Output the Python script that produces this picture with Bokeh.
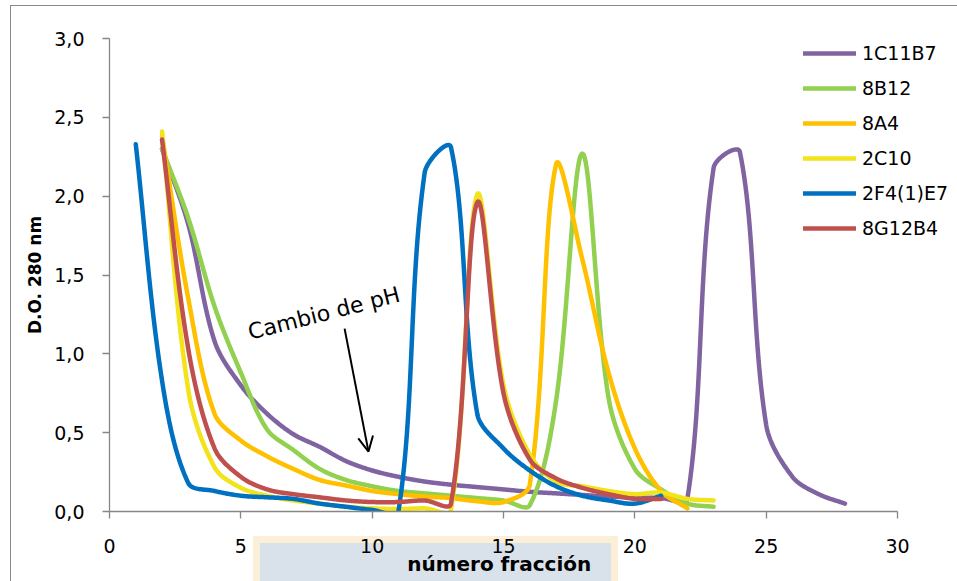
import numpy as np
from bokeh.plotting import figure
from bokeh.models import (Range1d, FixedTicker, CustomJSTickFormatter, Legend,
                          LegendItem, Arrow, OpenHead, Label)
from bokeh.embed import file_html
from bokeh.resources import INLINE

# ---------------- data ----------------
series_names = ["1C11B7", "8B12", "8A4", "2C10", "2F4(1)E7", "8G12B4"]
series_colors = ["#8064A2", "#92D050", "#FFC000", "#F2E31B", "#0070C0", "#C0504D"]

frac_1C11B7 = list(range(2, 29))
od_1C11B7 = [2.30, 1.82, 1.08, 0.80, 0.62, 0.49, 0.41, 0.32, 0.26, 0.22, 0.19, 0.17,
             0.155, 0.14, 0.125, 0.115, 0.105, 0.095, 0.09, 0.085, 0.08, 2.18, 2.28,
             0.55, 0.22, 0.11, 0.05]

frac_8B12 = list(range(2, 24))
od_8B12 = [2.30, 1.86, 1.30, 0.88, 0.52, 0.39, 0.27, 0.20, 0.16, 0.13, 0.115, 0.10,
           0.085, 0.07, 0.04, 0.70, 2.27, 0.72, 0.27, 0.14, 0.05, 0.03]

frac_8A4 = list(range(2, 23))
od_8A4 = [2.38, 1.35, 0.62, 0.45, 0.35, 0.27, 0.20, 0.165, 0.13, 0.11, 0.095, 0.085,
          0.065, 0.06, 0.17, 2.20, 1.60, 0.88, 0.40, 0.13, 0.02]

frac_2C10 = list(range(2, 24))
od_2C10 = [2.41, 0.77, 0.28, 0.15, 0.10, 0.07, 0.05, 0.03, 0.02, 0.015, 0.02, 0.01,
           2.01, 0.80, 0.36, 0.19, 0.16, 0.13, 0.11, 0.12, 0.08, 0.07]

frac_2F4 = list(range(1, 22))
od_2F4 = [2.33, 0.83, 0.18, 0.13, 0.10, 0.09, 0.08, 0.05, 0.03, 0.01, 0.0, 2.15,
          2.31, 0.62, 0.40, 0.26, 0.16, 0.10, 0.07, 0.05, 0.10]

frac_8G12B4 = list(range(2, 22))
od_8G12B4 = [2.36, 1.03, 0.40, 0.22, 0.14, 0.11, 0.09, 0.07, 0.06, 0.06, 0.07, 0.05,
             1.96, 0.75, 0.33, 0.21, 0.15, 0.11, 0.08, 0.08]

x_ticks = [0, 5, 10, 15, 20, 25, 30]
y_ticks = [0.0, 0.5, 1.0, 1.5, 2.0, 2.5, 3.0]

x_title = "número fracción"
y_title = "D.O. 280 nm"

all_x = [frac_1C11B7, frac_8B12, frac_8A4, frac_2C10, frac_2F4, frac_8G12B4]
all_y = [od_1C11B7, od_8B12, od_8A4, od_2C10, od_2F4, od_8G12B4]

# ---------------- layout ----------------
W, H = 947, 576
LEFT, TOP, BOTTOM = 98, 32, 71
AXIS_W = 788                      # pixel length of the 0..30 x axis
FW, FH = W - LEFT, H - TOP - BOTTOM
X0, X1, Y0, Y1 = x_ticks[0], x_ticks[-1], y_ticks[0], y_ticks[-1]
SX, SY = AXIS_W / (X1 - X0), FH / (Y1 - Y0)
X_VIEW_END = X0 + FW / SX         # frame continues to the right edge (room for legend)


def smooth(xs, ys, n=30):
    """Excel-like smoothed line (Bezier with chord-scaled Catmull-Rom tangents),
    computed in screen space so that it bends like the spreadsheet curve."""
    P = np.column_stack([np.asarray(xs, float) * SX, np.asarray(ys, float) * SY])
    N = len(P)
    after, before = [], []
    for i in range(N):
        prv = P[max(i - 1, 0)]
        nxt = P[min(i + 1, N - 1)]
        T = nxt - prv
        dp = np.linalg.norm(P[i] - prv)
        dn = np.linalg.norm(nxt - P[i])
        s = dp + dn if dp + dn > 0 else 1.0
        after.append(P[i] + T * (dn / s) / 3.0)
        before.append(P[i] - T * (dp / s) / 3.0)
    t = np.linspace(0, 1, n)[:, None]
    pts = [P[:1]]
    for i in range(N - 1):
        b0, b1, b2, b3 = P[i], after[i], before[i + 1], P[i + 1]
        seg = ((1 - t) ** 3) * b0 + 3 * ((1 - t) ** 2) * t * b1 + 3 * (1 - t) * t ** 2 * b2 + t ** 3 * b3
        pts.append(seg[1:])
    pts = np.vstack(pts)
    return pts[:, 0] / SX, pts[:, 1] / SY


p = figure(width=W, height=H, output_backend="svg", toolbar_location=None,
           x_range=Range1d(X0, X_VIEW_END), y_range=Range1d(Y0, Y1),
           min_border_left=LEFT, min_border_right=0,
           min_border_top=TOP, min_border_bottom=BOTTOM,
           margin=(5, 0, 0, 10))
# outer chart border + faint watermark box seen under the x-axis title
p.styles = {
    "border-left": "1px solid #8a8a8a",
    "border-top": "1px solid #8a8a8a",
    "background": ("linear-gradient(#d9e1ea,#d9e1ea) 249px 537px / 351px 60px no-repeat, "
                   "linear-gradient(#fcefd8,#fcefd8) 242px 530px / 365px 70px no-repeat, white"),
}
p.outline_line_color = None
p.xgrid.visible = False
p.ygrid.visible = False
p.background_fill_color = "white"
p.border_fill_color = None

fmt = CustomJSTickFormatter(code="return tick.toFixed(1).replace('.', ',');")
fmt_x = CustomJSTickFormatter(code="return tick.toFixed(0);")

for ax in (p.xaxis[0], p.yaxis[0]):
    ax.axis_line_color = "#868686"
    ax.axis_line_width = 1.3
    ax.major_tick_line_color = "#868686"
    ax.major_tick_line_width = 1.3
    ax.major_tick_in = 0
    ax.major_tick_out = 7
    ax.minor_tick_line_color = None
    ax.major_label_text_font = "DejaVu Sans"
    ax.major_label_text_font_size = "19px"
    ax.major_label_text_color = "#000000"
    ax.axis_label_text_font = "DejaVu Sans"
    ax.axis_label_text_font_style = "bold"
    ax.axis_label_text_color = "#000000"

p.xaxis.bounds = (X0, X1)
p.xaxis.ticker = FixedTicker(ticks=x_ticks)
p.yaxis.ticker = FixedTicker(ticks=y_ticks)
p.xaxis.formatter = fmt_x
p.yaxis.formatter = fmt
p.xaxis.major_label_standoff = 20
p.yaxis.major_label_standoff = 18
# the frame is wider than the 0..30 axis; trailing no-break spaces keep the
# title centred under the axis itself
p.xaxis.axis_label = x_title + "\u00a0" * 10
p.yaxis.axis_label = y_title
p.xaxis.axis_label_text_font_size = "20px"
p.yaxis.axis_label_text_font_size = "17px"
p.xaxis.axis_label_standoff = -4
p.yaxis.axis_label_standoff = 6

items = []
for name, col, xs, ys in zip(series_names, series_colors, all_x, all_y):
    sx, sy = smooth(xs, ys)
    r = p.line(sx, sy, line_color=col, line_width=4.5,
               line_join="round", line_cap="round")
    items.append(LegendItem(label=name, renderers=[r]))

legend = Legend(items=items, location=(694, 272),
                glyph_width=53, glyph_height=20, label_height=20,
                spacing=13, padding=0, margin=0, label_standoff=6,
                border_line_alpha=0, background_fill_alpha=0,
                label_text_font="DejaVu Sans", label_text_font_size="19px",
                label_text_color="#000000")
p.add_layout(legend)

# annotation "Cambio de pH"
note_x, note_y, note_angle = 5.29, 1.135, 0.25
arrow_start = (8.95, 1.16)
arrow_end = (9.86, 0.38)
p.add_layout(Label(x=note_x, y=note_y, text="Cambio de pH", angle=note_angle,
                   text_font="DejaVu Sans", text_font_size="22px",
                   text_baseline="alphabetic", text_align="left",
                   text_color="#000000"))
p.add_layout(Arrow(end=OpenHead(size=15, line_width=2, line_color="black"),
                   x_start=arrow_start[0], y_start=arrow_start[1],
                   x_end=arrow_end[0], y_end=arrow_end[1],
                   line_width=2, line_color="black"))

open("out.html", "w").write(file_html(p, INLINE))
